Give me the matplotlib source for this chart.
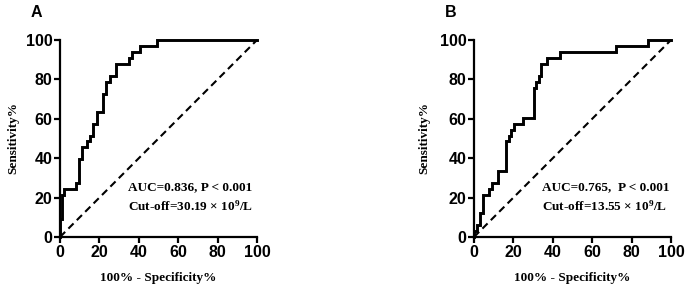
import matplotlib
matplotlib.use("Agg")
import matplotlib.pyplot as plt

plt.rcParams['mathtext.fontset'] = 'custom'
plt.rcParams['mathtext.rm'] = 'Liberation Serif:bold'
plt.rcParams['mathtext.it'] = 'Liberation Serif:bold'
plt.rcParams['mathtext.bf'] = 'Liberation Serif:bold'
plt.rcParams['mathtext.default'] = 'rm'

# Panel A ROC step vertices (steps-post)
fpr_a = [0, 0, 1, 2, 8, 9.8, 11.3, 13.9, 15.2, 16.5, 19, 22, 23.6, 25.3, 28.4, 35, 36.3, 40.5, 49, 100]
tpr_a = [0, 9.1, 21.2, 24.2, 27.3, 39.4, 45.5, 48.5, 51.5, 57.6, 63.6, 72.7, 78.8, 81.8, 87.9, 90.9, 93.9, 97, 100, 100]

# Panel B ROC step vertices (steps-post)
fpr_b = [0, 0, 1.5, 3, 4.5, 7.5, 9, 12.3, 16.4, 17.8, 19, 20.2, 24.9, 30.5, 31.7, 33, 34.2, 37.1, 43.6, 72, 88.5, 100]
tpr_b = [0, 3.0, 6.1, 12.1, 21.2, 24.2, 27.3, 33.3, 48.5, 51.5, 54.5, 57.6, 60.6, 75.8, 78.8, 81.8, 87.9, 90.9, 93.9, 97, 100, 100]

ticks = [0, 20, 40, 60, 80, 100]
tick_labels = ['0', '20', '40', '60', '80', '100']
panel_letters = ['A', 'B']
auc_texts = ['AUC=0.836, P < 0.001', 'AUC=0.765,  P < 0.001']
cut_texts = [r'Cut-off=30.19 × 10$^{9}$/L', r'Cut-off=13.55 × 10$^{9}$/L']
xlabel = '100% - Specificity%'
ylabel = 'Sensitivity%'

W, H = 685, 288
fig = plt.figure(figsize=(W / 100, H / 100), dpi=100)

lefts = [60, 474]
serif = 'Liberation Serif'
sans = 'Liberation Sans'

for i, (fx, ty) in enumerate([(fpr_a, tpr_a), (fpr_b, tpr_b)]):
    ax = fig.add_axes([lefts[i] / W, (H - 237) / H, 197 / W, 197 / H])
    ax.plot([0, 100], [0, 100], color='black', lw=1.5, ls=(0, (3.5, 2.2)), clip_on=False)
    ax.step(fx, ty, where='post', color='black', lw=2.1, clip_on=False, solid_joinstyle='miter')
    ax.set_xlim(0, 100)
    ax.set_ylim(0, 100)
    for s in ['top', 'right']:
        ax.spines[s].set_visible(False)
    for s in ['left', 'bottom']:
        ax.spines[s].set_linewidth(1.6)
    ax.set_xticks(ticks)
    ax.set_yticks(ticks)
    ax.set_xticklabels(tick_labels, fontfamily=sans, fontweight='bold', fontsize=11.5)
    ax.set_yticklabels(tick_labels, fontfamily=sans, fontweight='bold', fontsize=11.5)
    ax.tick_params(direction='out', length=4, width=1.6, pad=1.5)
    ax.set_xlabel(xlabel, fontfamily=serif, fontweight='bold', fontsize=9.5)
    ax.set_ylabel(ylabel, fontfamily=serif, fontweight='bold', fontsize=9.5)
    ax.xaxis.set_label_coords(0.5, -0.18)
    ax.yaxis.set_label_coords(-0.208 if i == 0 else -0.223, 0.5)
    ax.text(34.5, 25.4, auc_texts[i], fontfamily=serif, fontweight='bold', fontsize=9.5, va='center', ha='left')
    ax.text(34.5, 15.6, cut_texts[i], fontfamily=serif, fontweight='bold', fontsize=9.5, va='center', ha='left')
    ax.text(-0.12, 1.14, panel_letters[i], transform=ax.transAxes,
            fontfamily=sans, fontweight='bold', fontsize=11.5, ha='center', va='center')

fig.savefig('out.png', dpi=100)
